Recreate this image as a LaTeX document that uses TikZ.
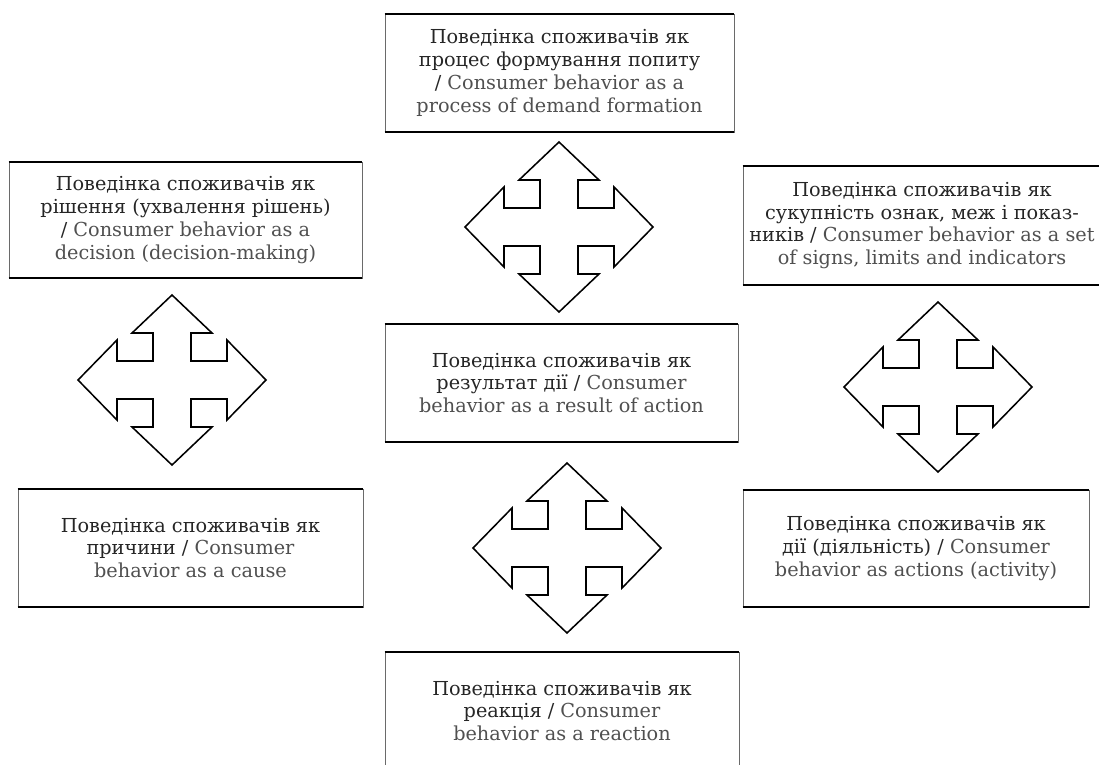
\documentclass[tikz,border=0pt]{standalone}
\usepackage{fontspec}
\setmainfont{DejaVu Serif}
\usetikzlibrary{positioning}
\definecolor{InkUa}{HTML}{262626}
\definecolor{InkEn}{HTML}{505050}
\definecolor{FrameSide}{HTML}{6A6A6A}
\newcommand{\en}[1]{\textcolor{InkEn}{#1}}
\tikzset{boxsize/.style 2 args={minimum width=#1*0.025cm,minimum height=#2*0.025cm},
  cross/.pic={\draw[black,line width=1.1pt,line join=miter,fill=white] (94,0)--(55,40)--(55,19)--(19,19)--(19,47)--(40,47)--(0,85)--(-40,47)--(-19,47)--(-19,19)--(-55,19)--(-55,40)--(-94,0)--(-55,-40)--(-55,-19)--(-19,-19)--(-19,-47)--(-40,-47)--(0,-85)--(40,-47)--(19,-47)--(19,-19)--(55,-19)--(55,-40)--cycle;}}

\begin{document}
\begin{tikzpicture}[x=0.025cm,y=-0.025cm,every node/.style={font=\fontsize{13.7}{16.2}\selectfont,text=InkUa},box/.style={draw=FrameSide,line width=0.6pt,align=center,inner sep=0pt},rim/.style={draw=black,line width=1.4pt}]
\useasboundingbox[fill=white] (0,0) rectangle (1099,764);
% boxes
\node[box,boxsize={349}{118}](proc) at (559.5,73){Поведінка споживачів як\\процес формування попиту\\/ \en{Consumer behavior as a}\\\en{process of demand formation}};
\node[box,boxsize={353}{116}](dec) at (185.5,220){Поведінка споживачів як\\рішення (ухвалення рішень)\\/ \en{Consumer behavior as a}\\\en{decision (decision-making)}};
\node[box,boxsize={358}{119}](sign) at (922,225.5){Поведінка споживачів як\\сукупність ознак, меж і показ-\\ників / \en{Consumer behavior as a set}\\\en{of signs, limits and indicators}};
\node[box,boxsize={353}{118}](res) at (561.5,383){Поведінка споживачів як\\результат дії / \en{Consumer}\\\en{behavior as a result of action}};
\node[box,boxsize={345}{118}](cause) at (190.5,548){Поведінка споживачів як\\причини / \en{Consumer}\\\en{behavior as a cause}};
\node[box,boxsize={346}{117}](act) at (916,548.5){Поведінка споживачів як\\дії (діяльність) / \en{Consumer}\\\en{behavior as actions (activity)}};
\node[box,boxsize={354}{118}](react) at (562,711){Поведінка споживачів як\\реакція / \en{Consumer}\\\en{behavior as a reaction}};
\foreach \b in {proc,dec,sign,res,cause,act,react}
  \draw[rim] (\b.north west)--(\b.north east) (\b.south west)--(\b.south east);
% four-way arrows
\coordinate (xtop) at (559,227);
\coordinate (xleft) at (172,380);
\coordinate (xright) at (938,387);
\coordinate (xbottom) at (567,548);
\foreach \c in {xtop,xleft,xright,xbottom}
  \pic at (\c) {cross};
\end{tikzpicture}
\end{document}
